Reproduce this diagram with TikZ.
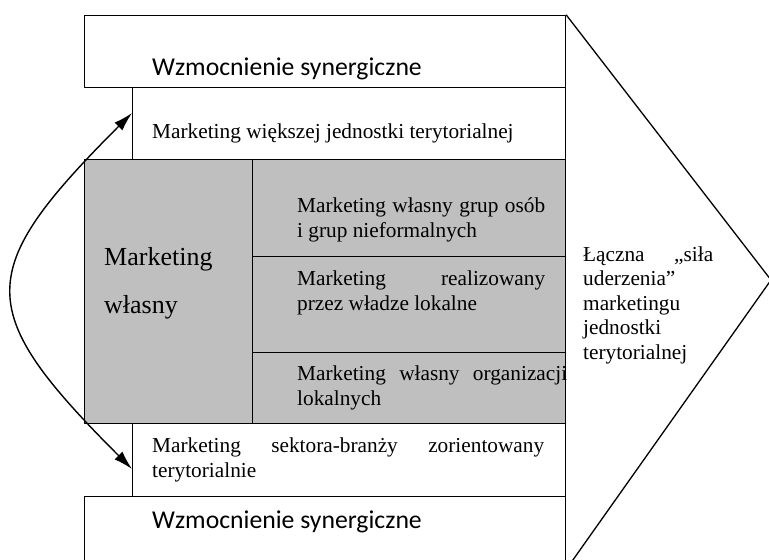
\documentclass[tikz,border=0pt]{standalone}
\usepackage{fontspec}
\setmainfont{Liberation Serif}
\newfontfamily\calfont{Carlito}
\usetikzlibrary{arrows.meta}
\definecolor{cccccc}{rgb}{0.75,0.75,0.75}
\tikzset{
  layer/.style={draw, line width=1.3pt, anchor=north west, inner sep=0pt},
  txt/.style={anchor=base west, inner sep=0pt, align=left, font=\fontsize{21.3}{24.5}\selectfont},
  syntxt/.style={anchor=base west, inner sep=0pt, font=\calfont\fontsize{25.7}{30}\selectfont},
}
\newcommand{\spread}[2]{\makebox[#1pt][s]{#2}}

\begin{document}
\begin{tikzpicture}[x=1pt,y=-1pt,line cap=round,line join=round,>={Latex[length=19pt,width=11pt]}]
  \useasboundingbox (0,0) rectangle (769,560);
  \clip (0,0) rectangle (769,560);
  % pieces of the pentagon
  \node[layer, minimum width=481pt, minimum height=72pt] (syntop) at (84,15) {};
  \node[layer, minimum width=433pt, minimum height=72pt] (wider) at (132,87) {};
  \node[layer, fill=cccccc, minimum width=168pt, minimum height=264pt] (own) at (84,159) {};
  \node[layer, fill=cccccc, minimum width=313pt, minimum height=97pt] (groups) at (252,159) {};
  \node[layer, fill=cccccc, minimum width=313pt, minimum height=96pt] (authority) at (252,256) {};
  \node[layer, fill=cccccc, minimum width=313pt, minimum height=71pt] (organis) at (252,352) {};
  \node[layer, minimum width=433pt, minimum height=73pt] (sector) at (132,423) {};
  \node[layer, minimum width=481pt, minimum height=72pt] (synbot) at (84,496) {};
  \coordinate (apex) at (771,280);
  \draw[line width=1.3pt] (syntop.north east) -- (apex) -- (synbot.south east);
  % texts (multi-line ones sit on their last baseline)
  \node[syntxt] (syntoplbl) at (152,75) {Wzmocnienie synergiczne};
  \node[txt] (widerlbl) at (152,138) {Marketing większej jednostki terytorialnej};
  \node[anchor=base west, inner sep=0pt, font=\fontsize{26}{48}\selectfont, align=left] (ownlbl) at (104,313) {Marketing\\własny};
  \node[txt] (groupslbl) at (297,237) {\spread{248}{Marketing własny grup osób}\\i grup nieformalnych};
  \node[txt] (authoritylbl) at (297,310) {\spread{248}{Marketing realizowany}\\przez władze lokalne};
  \node[txt] (organislbl) at (297,405) {\spread{270}{Marketing własny organizacji}\\lokalnych};
  \node[txt] (sectorlbl) at (152,477) {\spread{392}{Marketing sektora-branży zorientowany}\\terytorialnie};
  \node[syntxt] (synbotlbl) at (152,528) {Wzmocnienie synergiczne};
  \node[txt] (strikelbl) at (583,359) {\spread{130}{Łączna „siła}\\uderzenia”\\marketingu\\jednostki\\terytorialnej};
  % double arrow along the left side
  \coordinate (upTip) at (132,113);
  \coordinate (downTip) at (132,469);
  \draw[<->, line width=1.4pt] (upTip) .. controls (-26.7,271.7) and (-26.7,310.3) .. (downTip);
\end{tikzpicture}
\end{document}
